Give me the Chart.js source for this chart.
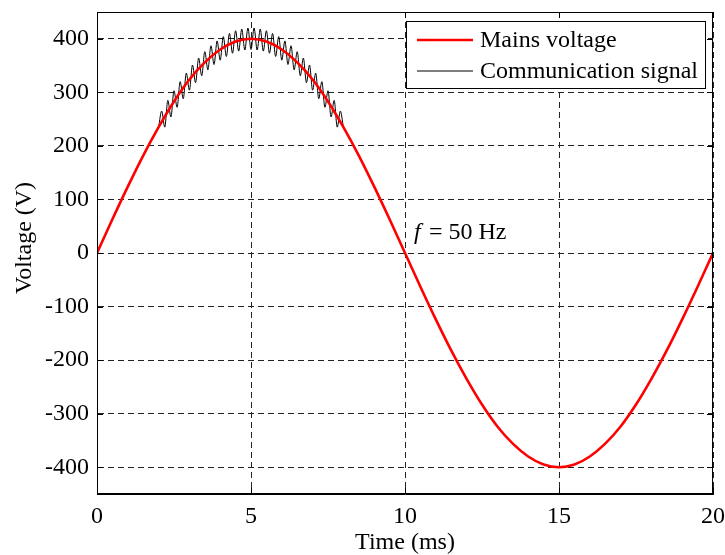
<!DOCTYPE html>
<html>
<head>
<meta charset="utf-8">
<script src="https://cdn.jsdelivr.net/npm/chart.js@4"></script>
<style>
  body { margin: 0; background: #fff; }
  canvas { display: block; }
</style>
</head>
<body>
<canvas id="sigChart" width="725" height="555"></canvas>
<script>
// mains voltage, sampled every 0.5 ms
const mainsTime = [0, 0.5, 1, 1.5, 2, 2.5, 3, 3.5, 4, 4.5, 5, 5.5, 6, 6.5, 7, 7.5, 8, 8.5, 9, 9.5,
  10, 10.5, 11, 11.5, 12, 12.5, 13, 13.5, 14, 14.5, 15, 15.5, 16, 16.5, 17, 17.5, 18, 18.5, 19, 19.5, 20];
const mainsVolt = [0, 63, 124, 182, 235, 283, 324, 356, 380, 395, 400, 395, 380, 356, 324, 283, 235, 182, 124, 63,
  0, -63, -124, -182, -235, -283, -324, -356, -380, -395, -400, -395, -380, -356, -324, -283, -235, -182, -124, -63, 0];

// communication signal riding on the crest (peaks / troughs every 0.1 ms)
const commTime = [2.0, 2.1, 2.2, 2.3, 2.4, 2.5, 2.6, 2.7, 2.8, 2.9, 3.0, 3.1, 3.2, 3.3, 3.4, 3.5, 3.6, 3.7, 3.8, 3.9,
  4.0, 4.1, 4.2, 4.3, 4.4, 4.5, 4.6, 4.7, 4.8, 4.9, 5.0, 5.1, 5.2, 5.3, 5.4, 5.5, 5.6, 5.7, 5.8, 5.9,
  6.0, 6.1, 6.2, 6.3, 6.4, 6.5, 6.6, 6.7, 6.8, 6.9, 7.0, 7.1, 7.2, 7.3, 7.4, 7.5, 7.6, 7.7, 7.8, 7.9, 8.0];
const commVolt = [235, 265, 235, 285, 254, 303, 272, 320, 288, 336, 304, 351, 318, 364, 331, 376, 342, 387, 352, 396,
  360, 404, 367, 410, 373, 415, 377, 418, 379, 420, 380, 420, 379, 418, 377, 415, 373, 410, 367, 404,
  360, 396, 352, 387, 342, 376, 331, 364, 318, 351, 304, 336, 288, 320, 272, 303, 254, 285, 235, 265, 235];

const xTicks = [0, 5, 10, 15, 20];
const yTicks = [-400, -300, -200, -100, 0, 100, 200, 300, 400];

const toPoints = (xs, ys) => xs.map((x, i) => ({ x: x, y: ys[i] }));

const serif = '"Liberation Serif", "Times New Roman", serif';

const frame = {
  id: 'frame',
  afterDraw(chart) {
    const { ctx, chartArea: a, scales: { x, y } } = chart;
    ctx.save();
    ctx.strokeStyle = '#000';
    ctx.lineWidth = 1;
    ctx.setLineDash([]);
    ctx.strokeRect(Math.round(a.left) + 0.5, Math.round(a.top) + 0.5, Math.round(a.width) - 1, Math.round(a.height) - 1);

    // inner tick marks on all four sides
    ctx.beginPath();
    xTicks.forEach((v) => {
      const px = Math.round(x.getPixelForValue(v)) + 0.5;
      ctx.moveTo(px, a.bottom); ctx.lineTo(px, a.bottom - 6);
      ctx.moveTo(px, a.top); ctx.lineTo(px, a.top + 6);
    });
    yTicks.forEach((v) => {
      const py = Math.round(y.getPixelForValue(v)) + 0.5;
      ctx.moveTo(a.left, py); ctx.lineTo(a.left + 6, py);
      ctx.moveTo(a.right, py); ctx.lineTo(a.right - 6, py);
    });
    ctx.stroke();

    // y axis title
    ctx.save();
    ctx.translate(25, 238);
    ctx.rotate(-Math.PI / 2);
    ctx.fillStyle = '#000';
    ctx.font = '24px ' + serif;
    ctx.textAlign = 'center';
    ctx.textBaseline = 'middle';
    ctx.fillText('Voltage (V)', 0, 0);
    ctx.restore();

    // legend box
    const bx = 406, by = 21, bw = 299, bh = 67;
    ctx.fillStyle = '#fff';
    ctx.fillRect(bx, by, bw, bh);
    ctx.strokeRect(bx + 0.5, by + 0.5, bw, bh);
    ctx.font = '24px ' + serif;
    ctx.textBaseline = 'middle';
    chart.data.datasets.forEach((ds, i) => {
      const ly = by + 19 + i * 31;
      ctx.strokeStyle = ds.borderColor;
      ctx.lineWidth = ds.borderWidth;
      ctx.beginPath();
      ctx.moveTo(bx + 11, ly); ctx.lineTo(bx + 67, ly);
      ctx.stroke();
      ctx.fillStyle = '#000';
      ctx.fillText(ds.label, bx + 74, ly + 1);
    });

    // frequency note
    ctx.fillStyle = '#000';
    ctx.textBaseline = 'alphabetic';
    ctx.font = 'italic 24px ' + serif;
    ctx.fillText('f', 414, 239);
    ctx.font = '24px ' + serif;
    ctx.fillText('= 50 Hz', 429, 239);
    ctx.restore();
  }
};

const ctx = document.getElementById('sigChart').getContext('2d');
const chart = new Chart(ctx, {
  type: 'line',
  data: {
    datasets: [
      {
        label: 'Mains voltage',
        borderColor: '#ff0000',
        borderWidth: 2.6,
        pointRadius: 0,
        cubicInterpolationMode: 'monotone',
        fill: false,
        data: toPoints(mainsTime, mainsVolt),
      },
      {
        label: 'Communication signal',
        borderColor: '#000000',
        borderWidth: 1,
        pointRadius: 0,
        cubicInterpolationMode: 'monotone',
        fill: false,
        data: toPoints(commTime, commVolt),
      },
    ],
  },
  options: {
    responsive: false,
    animation: false,
    layout: { padding: 0 },
    plugins: { legend: { display: false }, tooltip: { enabled: false } },
    scales: {
      x: {
        type: 'linear',
        min: 0,
        max: 20,
        afterBuildTicks: (s) => { s.ticks = xTicks.map((v) => ({ value: v })); },
        afterFit: (s) => { s.height = 61; s.paddingLeft = 0; s.paddingRight = 12; },
        grid: { color: '#222', lineWidth: 1, drawTicks: false },
        border: { display: true, color: '#000', width: 1, dash: [6, 4] },
        ticks: { color: '#000', padding: 8, maxRotation: 0, font: { family: serif, size: 24 } },
        title: { display: true, text: 'Time (ms)', color: '#000', padding: { top: 0, bottom: 0 }, font: { family: serif, size: 24, lineHeight: 1 } },
      },
      y: {
        type: 'linear',
        min: -450,
        max: 450,
        afterBuildTicks: (s) => { s.ticks = yTicks.map((v) => ({ value: v })); },
        afterFit: (s) => { s.width = 97; s.paddingTop = 12; s.paddingBottom = 0; },
        grid: { color: '#222', lineWidth: 1, drawTicks: false },
        border: { display: true, color: '#000', width: 1, dash: [6, 4] },
        ticks: { color: '#000', padding: 8, font: { family: serif, size: 24 } },
        title: { display: false },
      },
    },
  },
  plugins: [frame],
});
</script>
</body>
</html>
